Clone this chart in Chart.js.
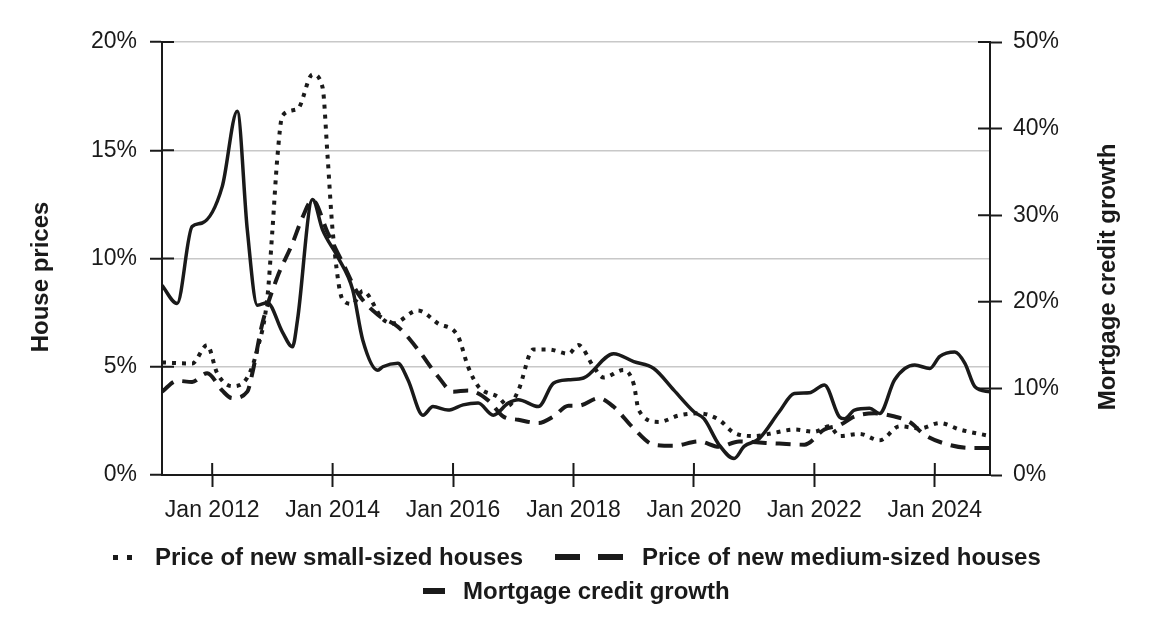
<!DOCTYPE html>
<html>
<head>
<meta charset="utf-8">
<script src="https://cdn.jsdelivr.net/npm/chart.js@4"></script>
<style>
  body { margin: 0; background: #fff; }
  #wrap { position: relative; width: 1152px; height: 631px; }
  #legend { position: absolute; left: 0; top: 0; width: 1152px; height: 631px; pointer-events: none;
            font: bold 24px "Liberation Sans", Arial, sans-serif; color: #1a1a1a; }
  .item { position: absolute; display: flex; align-items: center; height: 30px; white-space: nowrap; }
  .mark { display: inline-block; }
</style>
</head>
<body>
<div id="wrap">
  <canvas id="chart"></canvas>
  <div id="legend"></div>
</div>
<script>
// x values are months counted from Jan 2011 (0 = Jan 2011, 12 = Jan 2012 ...)
const tickMonths = [12, 36, 60, 84, 108, 132, 156];

// Price of new small-sized houses (%, left axis)
const smallMonths = [2, 8, 11, 13, 16, 19, 21, 23, 24, 25, 26, 29, 32, 34, 35, 36, 38, 40, 42, 46, 48, 53, 57, 61, 63, 65, 69, 71, 73, 76, 79, 83, 85, 88, 90, 94, 96, 97, 101, 105, 109, 113, 116, 120, 124, 128, 132, 135, 137, 141, 145, 149, 153, 157, 161, 167];
const smallPrices = [5.2, 5.15, 6.0, 4.7, 4.1, 4.5, 5.8, 8.2, 11.3, 14.7, 16.6, 16.9, 18.5, 17.9, 14.7, 11.3, 8.1, 7.9, 8.5, 7.2, 7.0, 7.6, 7.0, 6.4, 5.0, 4.1, 3.6, 3.2, 3.9, 5.8, 5.8, 5.6, 6.0, 5.0, 4.5, 4.85, 4.2, 3.0, 2.45, 2.75, 2.85, 2.55, 1.95, 1.8, 1.95, 2.1, 2.0, 2.25, 1.8, 1.9, 1.6, 2.25, 2.15, 2.4, 2.1, 1.8];

// Price of new medium-sized houses (%, left axis)
const mediumMonths = [2, 5, 8, 11, 14, 16, 19, 20, 22, 25, 28, 30, 32, 35, 38, 41, 45, 49, 53, 57, 60, 63, 67, 70, 73, 77, 80, 83, 85, 89, 92, 96, 100, 104, 109, 113, 117, 121, 125, 130, 134, 137, 140, 144, 148, 151, 154, 158, 163, 167];
const mediumPrices = [3.85, 4.35, 4.3, 4.7, 3.9, 3.55, 3.85, 4.7, 7.0, 9.15, 10.7, 11.9, 12.7, 11.2, 9.8, 8.4, 7.4, 6.85, 5.8, 4.55, 3.85, 3.9, 3.45, 2.7, 2.55, 2.4, 2.7, 3.2, 3.2, 3.55, 3.15, 2.15, 1.4, 1.35, 1.55, 1.3, 1.55, 1.5, 1.45, 1.4, 2.1, 2.3, 2.7, 2.85, 2.7, 2.45, 1.85, 1.45, 1.25, 1.25];

// Mortgage credit growth (%, right axis)
const creditMonths = [2, 5, 8, 10, 14, 17, 19, 21, 23, 26, 28, 29, 32, 34, 37, 40, 42, 45, 46, 49, 51, 54, 56, 59, 62, 65, 68, 71, 73, 77, 80, 83, 86, 92, 96, 100, 104, 108, 110, 113, 116, 118, 121, 125, 128, 131, 134, 137, 138, 140, 143, 145, 148, 152, 155, 157, 160, 162, 164, 167];
const creditGrowth = [21.9, 19.8, 28.7, 29.1, 33.3, 42.0, 28.3, 19.6, 19.9, 16.5, 14.8, 17.9, 31.8, 28.3, 25.2, 21.4, 15.6, 12.1, 12.5, 12.9, 11.0, 6.9, 7.9, 7.5, 8.1, 8.3, 6.9, 8.3, 8.7, 7.9, 10.6, 11.0, 11.2, 14.0, 13.1, 12.3, 9.8, 7.3, 6.5, 3.5, 1.9, 3.3, 4.2, 7.3, 9.4, 9.5, 10.4, 6.7, 6.5, 7.5, 7.7, 7.1, 11.0, 12.7, 12.3, 13.7, 14.2, 12.9, 10.2, 9.6];

const INK = '#1a1a1a';
const tickFont = { family: '"Liberation Sans", Arial, sans-serif', size: 23 };

function points(months, values) {
  return months.map((m, i) => ({ x: m, y: values[i] }));
}

// short tick marks pointing into the plot, axis titles
const extras = {
  id: 'extras',
  afterDraw(chart) {
    const ctx = chart.ctx;
    const { x, y, y1 } = chart.scales;
    ctx.save();
    ctx.strokeStyle = INK;
    ctx.lineWidth = 2;
    ctx.beginPath();
    y.ticks.forEach(t => { const p = y.getPixelForValue(t.value); ctx.moveTo(y.right, p); ctx.lineTo(y.right + 12, p); });
    y1.ticks.forEach(t => { const p = y1.getPixelForValue(t.value); ctx.moveTo(y1.left, p); ctx.lineTo(y1.left - 12, p); });
    x.ticks.forEach(t => { const p = x.getPixelForValue(t.value); ctx.moveTo(p, x.top); ctx.lineTo(p, x.top - 12); });
    ctx.stroke();

    ctx.fillStyle = INK;
    ctx.font = 'bold 24px "Liberation Sans", Arial, sans-serif';
    ctx.textAlign = 'center';
    ctx.textBaseline = 'middle';
    [[41, 'House prices'], [1108, 'Mortgage credit growth']].forEach(([cx, txt]) => {
      ctx.save();
      ctx.translate(cx, 277);
      ctx.rotate(-Math.PI / 2);
      ctx.fillText(txt, 0, 0);
      ctx.restore();
    });
    ctx.restore();
  }
};

new Chart(document.getElementById('chart'), {
  type: 'line',
  data: {
    datasets: [
      {
        label: 'Price of new small-sized houses',
        data: points(smallMonths, smallPrices),
        yAxisID: 'y',
        borderColor: INK,
        borderWidth: 4,
        borderDash: [4, 6]
      },
      {
        label: 'Price of new medium-sized houses',
        data: points(mediumMonths, mediumPrices),
        yAxisID: 'y',
        borderColor: INK,
        borderWidth: 4,
        borderDash: [15, 9]
      },
      {
        label: 'Mortgage credit growth',
        data: points(creditMonths, creditGrowth),
        yAxisID: 'y1',
        borderColor: INK,
        borderWidth: 3.5
      }
    ]
  },
  options: {
    responsive: true,
    maintainAspectRatio: false,
    animation: false,
    layout: { padding: { top: 42, bottom: 96, left: 0, right: 0 } },
    elements: {
      point: { radius: 0 },
      line: { cubicInterpolationMode: 'monotone', fill: false }
    },
    plugins: { legend: { display: false }, tooltip: { enabled: false } },
    scales: {
      x: {
        type: 'linear',
        min: 2,
        max: 167,
        afterBuildTicks: s => { s.ticks = tickMonths.map(v => ({ value: v })); },
        afterFit: s => { s.height = 60; },
        ticks: {
          autoSkip: false,
          maxRotation: 0,
          padding: 10,
          color: INK,
          font: tickFont,
          callback: v => 'Jan ' + (2011 + v / 12)
        },
        grid: { drawOnChartArea: false, tickLength: 12, tickColor: INK, tickWidth: 2 },
        border: { color: INK, width: 2 }
      },
      y: {
        position: 'left',
        min: 0,
        max: 20,
        afterFit: s => { s.width = 162; },
        ticks: { stepSize: 5, padding: 13, color: INK, font: tickFont, callback: v => v + '%' },
        grid: {
          color: c => c.tick && c.tick.value === 0 ? 'rgba(0,0,0,0)' : '#c8c8c8',
          lineWidth: 1.5,
          tickLength: 12,
          tickColor: INK,
          tickWidth: 2
        },
        border: { color: INK, width: 2 }
      },
      y1: {
        position: 'right',
        min: 0,
        max: 50,
        afterFit: s => { s.width = 162; },
        ticks: { stepSize: 10, padding: 11, color: INK, font: tickFont, callback: v => v + '%' },
        grid: { drawOnChartArea: false, tickLength: 12, tickColor: INK, tickWidth: 2 },
        border: { color: INK, width: 2 }
      }
    }
  },
  plugins: [extras]
});

// legend below the plot
const legendRows = [
  { left: 113, top: 542, mark: 'background: repeating-linear-gradient(to right, #1a1a1a 0 5px, transparent 5px 14px); width: 19px; height: 5px;', gap: 23, text: 'Price of new small-sized houses' },
  { left: 555, top: 542, mark: 'background: repeating-linear-gradient(to right, #1a1a1a 0 25px, transparent 25px 43px); width: 68px; height: 6px;', gap: 19, text: 'Price of new medium-sized houses' },
  { left: 423, top: 576, mark: 'background: #1a1a1a; width: 22px; height: 6px;', gap: 18, text: 'Mortgage credit growth' }
];
const legendEl = document.getElementById('legend');
legendRows.forEach(r => {
  const item = document.createElement('div');
  item.className = 'item';
  item.style.left = r.left + 'px';
  item.style.top = r.top + 'px';
  const mark = document.createElement('span');
  mark.className = 'mark';
  mark.style.cssText = r.mark + 'margin-right:' + r.gap + 'px;';
  const label = document.createElement('span');
  label.textContent = r.text;
  item.appendChild(mark);
  item.appendChild(label);
  legendEl.appendChild(item);
});
</script>
</body>
</html>
